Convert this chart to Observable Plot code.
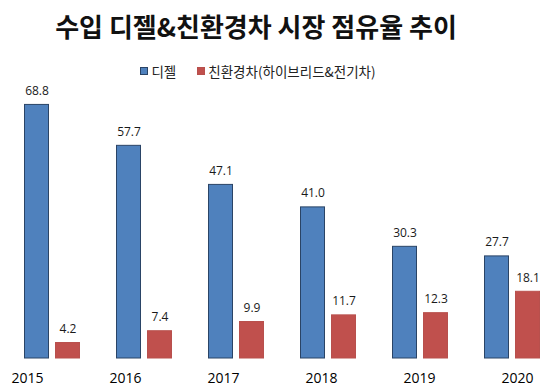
<!DOCTYPE html>
<html>
<head>
<meta charset="utf-8">
<script src="https://cdn.jsdelivr.net/npm/d3@7"></script>
<script src="https://cdn.jsdelivr.net/npm/@observablehq/plot@0.6"></script>
<style>
  html, body { margin: 0; padding: 0; background: #fff; }
  #wrap { position: relative; width: 555px; height: 387px; overflow: hidden; font-family: "Noto Sans CJK KR", "Noto Sans", sans-serif; }
  #title { position: absolute; left: 0; top: 6px; width: 512px; text-align: center; font-size: 26px; font-weight: bold; color: #111; line-height: 40px; }
  #legend { position: absolute; left: 0; top: 61px; width: 516px; display: flex; justify-content: center; align-items: center; font-size: 13.5px; color: #222; line-height: 20px; }
  #legend .item { display: flex; align-items: center; }
  #legend .sw { width: 8px; height: 8px; margin-right: 3px; box-sizing: border-box; }
  #main { position: absolute; left: 0; top: 0; }
  #years { position: absolute; left: 0; top: 365px; }
</style>
</head>
<body>
<div id="wrap">
  <div id="title">수입 디젤&amp;친환경차 시장 점유율 추이</div>
  <div id="legend"></div>
  <div id="main"></div>
  <div id="years"></div>
</div>
<script>
const years = ["2015", "2016", "2017", "2018", "2019", "2020"];
const seriesNames = ["디젤", "친환경차(하이브리드&전기차)"];
const diesel = [68.8, 57.7, 47.1, 41.0, 30.3, 27.7];
const eco = [4.2, 7.4, 9.9, 11.7, 12.3, 18.1];
const colors = ["#4f81bd", "#c0504d"];
const strokes = ["#2a4466", "#b8504d"];

const data = [];
years.forEach((y, i) => {
  data.push({year: y, series: seriesNames[0], value: diesel[i]});
  data.push({year: y, series: seriesNames[1], value: eco[i]});
});

// legend
const legend = document.getElementById("legend");
seriesNames.forEach((s, i) => {
  const it = document.createElement("div");
  it.className = "item";
  if (i > 0) it.style.marginLeft = "21px";
  const sw = document.createElement("div");
  sw.className = "sw";
  sw.style.background = colors[i];
  sw.style.border = "1px solid " + strokes[i];
  const t = document.createElement("span");
  t.textContent = s;
  it.appendChild(sw);
  it.appendChild(t);
  legend.appendChild(it);
});

const main = Plot.plot({
  width: 555,
  height: 387,
  marginTop: 100,
  marginBottom: 29,
  marginLeft: 22,
  marginRight: 14,
  fx: {domain: years, paddingInner: 0.395, paddingOuter: 0, axis: null, label: null},
  x: {domain: seriesNames, paddingInner: 0.2, paddingOuter: 0, axis: null, label: null},
  y: {domain: [0, 70], axis: null},
  color: {domain: seriesNames, range: colors},
  style: {fontFamily: "'Open Sans', 'Noto Sans', sans-serif", background: "transparent"},
  marks: [
    Plot.barY(data, {
      fx: "year", x: "series", y: "value",
      fill: "series",
      stroke: d => d.series === seriesNames[0] ? strokes[0] : strokes[1],
      strokeWidth: 1,
      insetLeft: 0.5, insetRight: 0.5
    }),
    Plot.text(data, {
      fx: "year", x: "series", y: "value",
      text: d => d.value.toFixed(1),
      dy: -14,
      fontSize: 12,
      fill: "#1a1a1a"
    })
  ]
});
document.getElementById("main").appendChild(main);

const yearAxis = Plot.plot({
  width: 555,
  height: 26,
  marginTop: 0,
  marginBottom: 0,
  marginLeft: 0,
  marginRight: 0,
  x: {type: "point", domain: years, range: [26, 517], padding: 0, axis: null},
  style: {fontFamily: "'Open Sans', 'Noto Sans', sans-serif", background: "transparent"},
  marks: [
    Plot.text(years, {x: d => d, text: d => d, frameAnchor: "middle", fontSize: 14, fill: "#000"})
  ]
});
document.getElementById("years").appendChild(yearAxis);
</script>
</body>
</html>
